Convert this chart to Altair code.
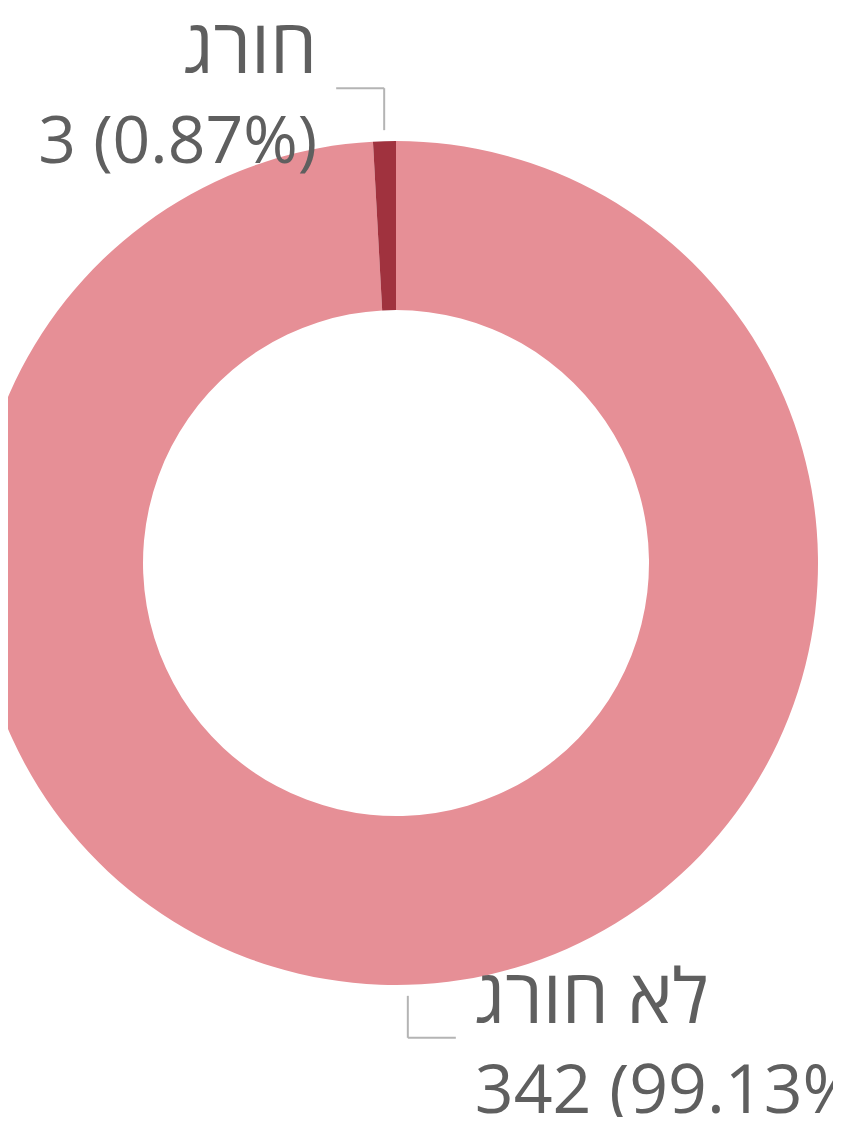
import altair as alt
import pandas as pd

# ---- data ----
categories = ["לא חורג", "חורג"]
counts = [342, 3]
order_idx = [0, 1]
colors = ["#E68F96", "#A0323E"]

df = pd.DataFrame({"cat": categories, "count": counts, "order": order_idx})

# ---- layout (chart coords) ----
W, H = 825, 1109
CX, CY = 388, 555
R_OUT, R_IN = 422, 253
R_LEAD_A, R_LEAD_B = 433, 475
LEAD_H = 48
TEXT_GAP = 19
TEXT_COLOR = "#5F5F5F"
LEAD_COLOR = "#B4B4B4"
FONT = "Open Sans"

arc = alt.Chart(df).mark_arc(
    innerRadius=R_IN, outerRadius=R_OUT, x=CX, y=CY, stroke=None
).encode(
    theta=alt.Theta("count:Q", stack=True),
    color=alt.Color("cat:N", scale=alt.Scale(domain=categories, range=colors), legend=None),
    order=alt.Order("order:Q"),
)

base = alt.Chart(df).transform_joinaggregate(
    total="sum(count)"
).transform_window(
    cum="sum(count)", sort=[alt.SortField("order")], frame=[None, 0]
).transform_calculate(
    mid="2*PI*(datum.cum - datum.count/2)/datum.total"
).transform_calculate(
    side="sin(datum.mid) < 0 ? -1 : 1",
    ax=f"{CX} + {R_LEAD_A}*sin(datum.mid)",
    ay=f"{CY} - {R_LEAD_A}*cos(datum.mid)",
    by=f"{CY} - {R_LEAD_B}*cos(datum.mid)",
    line2="datum.count + ' (' + format(datum.count/datum.total, '.2%') + ')'",
).transform_calculate(
    bx=f"datum.ax + datum.side*{LEAD_H}",
).transform_calculate(
    tx=f"datum.bx + datum.side*{TEXT_GAP}",
    t1y="datum.by - 15",
    t2y="datum.by + 75",
)

vrule = base.mark_rule(color=LEAD_COLOR, strokeWidth=2).encode(
    x=alt.X("ax:Q", scale=None),
    y=alt.Y("ay:Q", scale=None),
    y2="by:Q",
)
hrule = base.mark_rule(color=LEAD_COLOR, strokeWidth=2).encode(
    x=alt.X("ax:Q", scale=None),
    x2="bx:Q",
    y=alt.Y("by:Q", scale=None),
)

def labels(side, align, size_name, size_num):
    b = base.transform_filter(f"datum.side == {side}")
    t1 = b.mark_text(align=align, baseline="alphabetic", font=FONT, fontSize=size_name, color=TEXT_COLOR).encode(
        x=alt.X("tx:Q", scale=None), y=alt.Y("t1y:Q", scale=None), text="cat:N"
    )
    t2 = b.mark_text(align=align, baseline="alphabetic", font=FONT, fontSize=size_num, color=TEXT_COLOR).encode(
        x=alt.X("tx:Q", scale=None), y=alt.Y("t2y:Q", scale=None), text="line2:N"
    )
    return [t1, t2]

layers = [arc, vrule, hrule] + labels(-1, "right", 75, 66) + labels(1, "left", 75, 68)

chart = alt.layer(*layers).properties(
    width=W, height=H, autosize=alt.AutoSizeParams(type="none"), padding=0
).configure_view(stroke=None)

chart.save("out.html", embed_options={"renderer": "svg", "actions": False})
